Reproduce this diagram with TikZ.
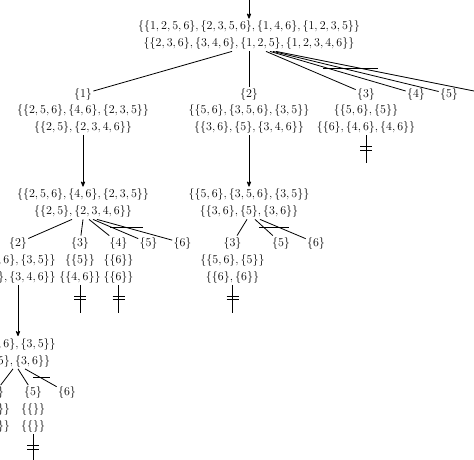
\documentclass[tikz,border=0pt]{standalone}
\usepackage{amsmath}
\usepackage{amssymb}
\usetikzlibrary{arrows,positioning,calc}

\begin{document}
\begin{tikzpicture}[x=1pt, y=1pt, >=stealth', thick, on grid, font=\fontsize{11.85}{17}\selectfont]
	\tikzstyle{every node}=[inner sep=1.5pt, text=black]
	\tikzstyle{sets}=[align=center]
	\tikzstyle{elem}=[inner sep=1pt]
	\useasboundingbox (0,0) rectangle (474,-460);
	\clip (0,0) rectangle (474,-460);

	% root and first branching
	\node[sets] (r) at (249,-35) {$\{\{1,2,5,6\}, \{2,3,5,6\}, \{1,4,6\}, \{1,2,3,5\}\}$\\$\{\{2,3,6\}, \{3,4,6\}, \{1,2,5\}, \{1,2,3,4,6\}\}$};
	\coordinate[above=45pt of r] (top);
	\node[elem] (l1) [below left=59pt and 166pt of r] {$\{1\}$};
	\node[elem] (l2) [below=59pt of r]               {$\{2\}$};
	\node[elem] (l3) [right=117pt of l2]             {$\{3\}$};
	\node[elem] (l4) [right=50pt of l3]              {$\{4\}$};
	\node[elem] (l5) [right=33pt of l4]              {$\{5\}$};
	\coordinate[right=40pt of l5] (e6);
	\node[sets] (s1) [below=24.5pt of l1] {$\{\{2,5,6\}, \{4,6\}, \{2,3,5\}\}$\\$\{\{2,5\}, \{2,3,4,6\}\}$};
	\node[sets] (s2) [below=25pt of l2]   {$\{\{5,6\}, \{3,5,6\}, \{3,5\}\}$\\$\{\{3,6\}, \{5\}, \{3,4,6\}\}$};
	\node[sets] (s3) [below=25pt of l3]   {$\{\{5,6\}, \{5\}\}$\\$\{\{6\}, \{4,6\}, \{4,6\}\}$};

	% reduced nodes
	\node[sets] (A) [below=84.5pt of s1] {$\{\{2,5,6\}, \{4,6\}, \{2,3,5\}\}$\\$\{\{2,5\}, \{2,3,4,6\}\}$};
	\node[sets] (B) [below=84pt of s2]   {$\{\{5,6\}, \{3,5,6\}, \{3,5\}\}$\\$\{\{3,6\}, \{5\}, \{3,6\}\}$};

	\node[elem] (a2) [below left=40pt and 65pt of A]    {$\{2\}$};
	\node[elem] (a3) [below left=40pt and 3pt of A]     {$\{3\}$};
	\node[elem] (a4) [below right=40pt and 35.5pt of A] {$\{4\}$};
	\node[elem] (a5) [below right=40pt and 65.5pt of A] {$\{5\}$};
	\node[elem] (a6) [below right=40pt and 99.5pt of A] {$\{6\}$};
	\node[sets] (a2s) [below=25.5pt of a2] {$\{\{5,6\}, \{3,5\}\}$\\$\{\{5\}, \{3,4,6\}\}$};
	\node[sets] (a3s) [below=25.5pt of a3] {$\{\{5\}\}$\\$\{\{4,6\}\}$};
	\node[sets] (a4s) [below=25.5pt of a4] {$\{\{6\}\}$\\$\{\{6\}\}$};

	\node[elem] (b3) [below left=40pt and 16.5pt of B] {$\{3\}$};
	\node[elem] (b5) [below right=40pt and 32pt of B]  {$\{5\}$};
	\node[elem] (b6) [below right=40pt and 67pt of B]  {$\{6\}$};
	\node[sets] (b3s) [below=25.5pt of b3] {$\{\{5,6\}, \{5\}\}$\\$\{\{6\}, \{6\}\}$};

	\node[sets] (C) [below=84pt of a2s] {$\{\{5,6\}, \{3,5\}\}$\\$\{\{5\}, \{3,6\}\}$};
	\node[elem] (c3) [below left=40pt and 23pt of C]  {$\{3\}$};
	\node[elem] (c5) [below right=40pt and 15pt of C] {$\{5\}$};
	\node[elem] (c6) [below right=40pt and 49pt of C] {$\{6\}$};
	\node[sets] (c3s) [below=25.5pt of c3] {$\{\{5\}\}$\\$\{\{6\}\}$};
	\node[sets] (c5s) [below=25.5pt of c5] {$\{\{\}\}$\\$\{\{\}\}$};

	% arrows into the sets
	\draw[->] (top) -- (r);
	\draw[->] (s1) -- (A);
	\draw[->] (s2) -- (B);
	\draw[->] (a2s) -- (C);

	% branches
	\path ([xshift=-17pt]r.south) edge (l1);
	\path (r.south) edge (l2);
	\path ([xshift=17pt]r.south) edge (l3);
	\path ([xshift=21pt]r.south) edge (l4);
	\path ([xshift=24pt]r.south) edge (l5);
	\path ([xshift=27pt]r.south) edge (e6);

	\path ([xshift=-11pt]A.south) edge (a2);
	\path (A.south) edge (a3);
	\path ([xshift=6pt]A.south) edge (a4);
	\path ([xshift=10pt]A.south) edge (a5);
	\path ([xshift=14pt]A.south) edge (a6);

	\path ([xshift=-2pt]B.south) edge (b3);
	\path ([xshift=6pt]B.south) edge (b5);
	\path ([xshift=11pt]B.south) edge (b6);

	\path ([xshift=-5pt]C.south) edge (c3);
	\path (C.south) edge (c5);
	\path ([xshift=7pt]C.south) edge (c6);

	% cut branches
	\draw ($(r.south)+(74,-17)$) -- ++(55,0);
	\draw ($(A.south)+(27,-7.5)$) -- ++(33,0);
	\draw ($(B.south)+(10,-7.5)$) -- ++(30,0);
	\draw ($(C.south)+(15,-8.5)$) -- ++(17,0);

	% closed leaves
	\foreach \n in {s3,a3s,a4s,b3s,c5s}{
		\draw (\n.south) -- ++(0,-28);
		\draw ($(\n.south)+(-6,-11)$) -- ++(12,0) ($(\n.south)+(-6,-14.5)$) -- ++(12,0);
	}
\end{tikzpicture}
\end{document}
